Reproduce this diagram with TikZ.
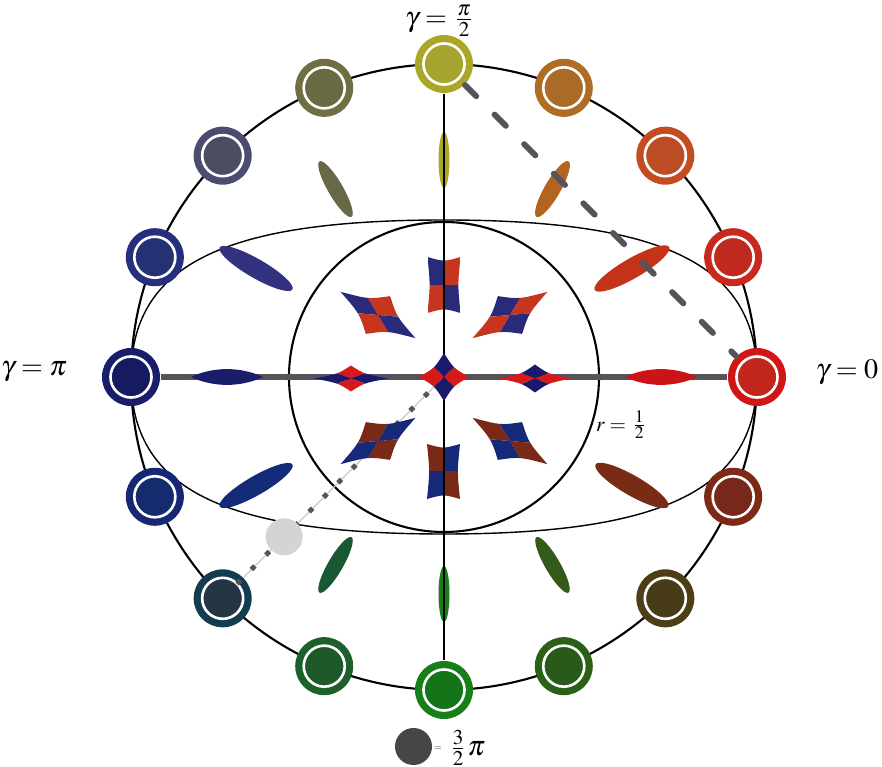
\documentclass[tikz,border=0pt]{standalone}
\usepackage{mathptmx}
\usepackage{tikz}
\usetikzlibrary{calc,positioning}
% ring / core colours of the outer markers
\definecolor{ring0}{RGB}{208,22,22}   \definecolor{core0}{RGB}{195,38,28}
\definecolor{ring1}{RGB}{200,40,30}   \definecolor{core1}{RGB}{190,42,30}
\definecolor{ring2}{RGB}{196,76,32}   \definecolor{core2}{RGB}{188,76,36}
\definecolor{ring3}{RGB}{176,108,36}  \definecolor{core3}{RGB}{170,106,40}
\definecolor{ring4}{RGB}{170,166,40}  \definecolor{core4}{RGB}{164,164,46}
\definecolor{ring5}{RGB}{112,110,66}  \definecolor{core5}{RGB}{106,106,66}
\definecolor{ring6}{RGB}{76,76,112}   \definecolor{core6}{RGB}{74,78,96}
\definecolor{ring7}{RGB}{40,46,126}   \definecolor{core7}{RGB}{36,50,116}
\definecolor{ring8}{RGB}{26,30,106}   \definecolor{core8}{RGB}{22,26,96}
\definecolor{ring9}{RGB}{22,40,116}   \definecolor{core9}{RGB}{20,44,110}
\definecolor{ring10}{RGB}{20,60,80}   \definecolor{core10}{RGB}{36,54,68}
\definecolor{ring11}{RGB}{30,96,44}   \definecolor{core11}{RGB}{30,90,40}
\definecolor{ring12}{RGB}{24,126,26}  \definecolor{core12}{RGB}{20,116,24}
\definecolor{ring13}{RGB}{42,96,24}   \definecolor{core13}{RGB}{40,90,26}
\definecolor{ring14}{RGB}{76,62,22}   \definecolor{core14}{RGB}{72,60,24}
\definecolor{ring15}{RGB}{126,40,22}  \definecolor{core15}{RGB}{120,40,26}
% polarisation ellipses
\definecolor{pol0}{RGB}{204,20,24}
\definecolor{pol30}{RGB}{196,50,26}
\definecolor{pol60}{RGB}{180,100,32}
\definecolor{pol90}{RGB}{170,166,42}
\definecolor{pol120}{RGB}{104,104,72}
\definecolor{pol150}{RGB}{50,50,126}
\definecolor{pol180}{RGB}{26,30,106}
\definecolor{pol210}{RGB}{20,44,120}
\definecolor{pol240}{RGB}{24,88,50}
\definecolor{pol270}{RGB}{24,126,26}
\definecolor{pol300}{RGB}{50,90,24}
\definecolor{pol330}{RGB}{120,44,22}
% checker stars
\definecolor{cnavy}{RGB}{26,26,108}
\definecolor{cred}{RGB}{214,26,26}
\definecolor{snavy}{RGB}{42,42,122}
\definecolor{sred}{RGB}{198,54,30}
\definecolor{bnavy}{RGB}{22,40,120}
\definecolor{sbrown}{RGB}{120,42,22}
\definecolor{axisgray}{RGB}{84,84,90}
\definecolor{faintgray}{RGB}{200,200,200}
\definecolor{markgray}{RGB}{212,212,212}
\definecolor{keygray}{RGB}{70,70,70}

\tikzset{
  gnode/.style 2 args={circle, minimum size=0.58cm, inner sep=0pt, fill=#1,
    path picture={\fill[#2, draw=white, line width=0.75pt] (path picture bounding box.center) circle (0.205cm);}},
  bigcircle/.style={draw=black, line width=0.6pt},
  ovalline/.style={draw=black, line width=0.4pt},
  axisline/.style={draw=axisgray, line width=1.45pt},
  vline/.style={draw=black, line width=0.5pt},
  dashline/.style={draw=axisgray, line width=1.7pt, line cap=round, dash pattern=on 4.5pt off 7.4pt},
  diagline/.style={draw=faintgray, line width=0.35pt},
  lbl/.style={font=\footnotesize, inner sep=0pt},
}

% checkered concave quad: centre, corner a, corner b, bow, colour a, colour b
\newcommand{\chkstar}[9]{%
  \begin{scope}[shift={(#1,#2)}]
    \coordinate (sa) at (#3,#4);
    \coordinate (sb) at (#5,#6);
    \coordinate (sc) at ($(0,0)!-1!(sa)$);
    \coordinate (sd) at ($(0,0)!-1!(sb)$);
    \clip (sa) .. controls ($(sa)!0.5!(sb)!#7!(0,0)$) .. (sb)
      .. controls ($(sb)!0.5!(sc)!#7!(0,0)$) .. (sc)
      .. controls ($(sc)!0.5!(sd)!#7!(0,0)$) .. (sd)
      .. controls ($(sd)!0.5!(sa)!#7!(0,0)$) .. (sa) -- cycle;
    \fill[#8] (sa) -- ($(sa)!0.5!(sb)$) -- (0,0) -- ($(sd)!0.5!(sa)$) -- cycle;
    \fill[#9] (sb) -- ($(sb)!0.5!(sc)$) -- (0,0) -- ($(sa)!0.5!(sb)$) -- cycle;
    \fill[#8] (sc) -- ($(sc)!0.5!(sd)$) -- (0,0) -- ($(sb)!0.5!(sc)$) -- cycle;
    \fill[#9] (sd) -- ($(sd)!0.5!(sa)$) -- (0,0) -- ($(sc)!0.5!(sd)$) -- cycle;
  \end{scope}}

\begin{document}
\begin{tikzpicture}[x=0.01cm, y=0.01cm]
\useasboundingbox (-444,-390) rectangle (438,377);
\coordinate (O) at (0,0);

% circles and the oval
\draw[bigcircle] (O) circle (313);
\draw[ovalline] (313,0) .. controls (313,111.5) and (222,157) .. (0,157)
  .. controls (-222,157) and (-313,111.5) .. (-313,0)
  .. controls (-313,-111.5) and (-222,-157) .. (0,-157)
  .. controls (222,-157) and (313,-111.5) .. (313,0);
\draw[bigcircle] (O) circle (155);

% markers on the outer circle
\node[gnode={ring0}{core0}] (g0) at (0:313) {};
\node[gnode={ring1}{core1}] (g22) at (22.5:313) {};
\node[gnode={ring2}{core2}] (g45) at (45:313) {};
\node[gnode={ring3}{core3}] (g67) at (67.5:313) {};
\node[gnode={ring4}{core4}] (g90) at (90:313) {};
\node[gnode={ring5}{core5}] (g112) at (112.5:313) {};
\node[gnode={ring6}{core6}] (g135) at (135:313) {};
\node[gnode={ring7}{core7}] (g157) at (157.5:313) {};
\node[gnode={ring8}{core8}] (g180) at (180:313) {};
\node[gnode={ring9}{core9}] (g202) at (202.5:313) {};
\node[gnode={ring10}{core10}] (g225) at (225:313) {};
\node[gnode={ring11}{core11}] (g247) at (247.5:313) {};
\node[gnode={ring12}{core12}] (g270) at (270:313) {};
\node[gnode={ring13}{core13}] (g292) at (292.5:313) {};
\node[gnode={ring14}{core14}] (g315) at (315:313) {};
\node[gnode={ring15}{core15}] (g337) at (337.5:313) {};

\draw[axisline] (g180) -- (g0);

% dotted diagonal
\draw[diagline] (O) -- (g225);
\foreach \d in {25,45.4,...,292}
  \fill[axisgray] (225:\d) +(0,3.5) -- +(3.5,0) -- +(0,-3.5) -- +(-3.5,0) -- cycle;
\node[circle, fill=markgray, minimum size=0.37cm, inner sep=0pt] (mark) at (225:226) {};

% polarisation ellipses
\fill[pol0] (181,0) .. controls (203,10.5) and (231,10.5) .. (253,0) .. controls (231,-10.5) and (203,-10.5) .. (181,0);
\fill[pol30] (30:217) ellipse [x radius=43, y radius=10, rotate=30];
\fill[pol60] (60:217) ellipse [x radius=32, y radius=8, rotate=60];
\fill[pol90] (90:217) ellipse [x radius=28, y radius=5.5, rotate=90];
\fill[pol120] (120:217) ellipse [x radius=32, y radius=7.5, rotate=120];
\fill[pol150] (150:217) ellipse [x radius=42, y radius=9.5, rotate=150];
\fill[pol180] (-181,0) .. controls (-203,10.5) and (-231,10.5) .. (-253,0) .. controls (-231,-10.5) and (-203,-10.5) .. (-181,0);
\fill[pol210] (210:217) ellipse [x radius=42, y radius=9.5, rotate=210];
\fill[pol240] (240:217) ellipse [x radius=32, y radius=7.5, rotate=240];
\fill[pol270] (270:217) ellipse [x radius=28, y radius=5.5, rotate=270];
\fill[pol300] (300:217) ellipse [x radius=32, y radius=7.5, rotate=300];
\fill[pol330] (330:217) ellipse [x radius=42, y radius=10, rotate=330];

% checkered stars inside r = 1/2
\chkstar{91}{-1.5}{0}{14}{36}{0}{0.3}{cnavy}{cred}
\chkstar{-93}{-1.5}{0}{13}{37}{0}{0.3}{cred}{cnavy}
\chkstar{0}{92}{-16.5}{28}{16.5}{28}{0.17}{snavy}{sred}
\chkstar{-0.5}{-94.5}{-16.5}{27.5}{16.5}{27.5}{0.17}{sbrown}{bnavy}
\chkstar{66}{62}{-12.2}{18.9}{37.5}{23.2}{0.25}{snavy}{sred}
\chkstar{-66}{62}{12.2}{18.9}{-37.5}{23.2}{0.25}{sred}{snavy}
\chkstar{66}{-64}{-12.2}{-18.9}{37.5}{-23.2}{0.25}{bnavy}{sbrown}
\chkstar{-66}{-64}{12.2}{-18.9}{-37.5}{-23.2}{0.25}{sbrown}{bnavy}

\draw[vline] (g90) -- (g270);
\chkstar{0}{0}{0}{24}{25}{0}{0.25}{cnavy}{cred}
\draw[dashline] (g90) -- (g0);

% labels
\node[lbl] (top) at (-4,356) {$\gamma=\frac{\pi}{2}$};
\node[lbl] (east) at (403,5) {$\gamma=0$};
\node[lbl] (west) at (-410,5) {$\gamma=\pi$};
\node[lbl, font=\fontsize{6}{7}\selectfont] (rad) at (178,-48) {$r=\frac{1}{2}$};

% key
\node[circle, fill=keygray, minimum size=0.37cm, inner sep=0pt] (key) at (-30.5,-369.5) {};
\node[inner sep=0pt, text=keygray, font=\fontsize{3}{3}\selectfont] (keyeq) at (-6,-372) {$=$};
\node[lbl] (keyval) at (23,-371) {$\frac{3}{2}\pi$};
\end{tikzpicture}
\end{document}
